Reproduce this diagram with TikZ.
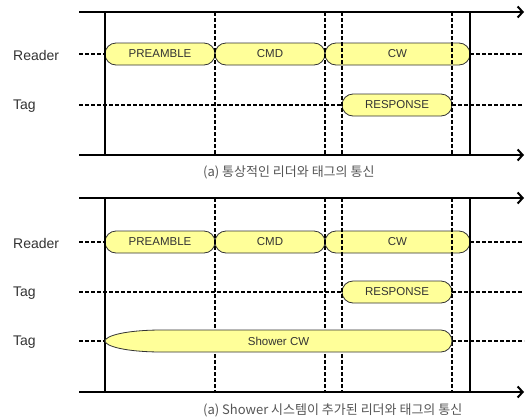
\documentclass[tikz,border=0pt]{standalone}
\usepackage{fontspec}
\setmainfont{Liberation Sans}
\newfontfamily\krfont{Noto Sans CJK KR}
\usetikzlibrary{arrows.meta,positioning,shapes.misc}
\definecolor{capfill}{HTML}{FFFF99}
\definecolor{inkgray}{HTML}{333333}
\definecolor{capgray}{HTML}{555555}

\begin{document}
\begin{tikzpicture}[x=1pt, y=-1pt,
    axis/.style={line width=2.4pt, -{Straight Barb[length=5pt, width=11pt, line width=2pt]}},
    bound/.style={line width=1.1pt},
    tick/.style={line width=1.2pt, dash pattern=on 4pt off 2pt},
    dashline/.style={line width=1.2pt, dash pattern=on 4pt off 2pt},
    capsule/.style={rounded rectangle, draw=inkgray, fill=capfill, line width=0.8pt,
        minimum height=22pt, inner sep=0pt, font=\fontsize{11.5}{13}\selectfont, text=inkgray},
    rowlabel/.style={anchor=west, inner sep=0pt, font=\fontsize{14}{16}\selectfont, text=inkgray},
    caption/.style={anchor=west, inner sep=0pt, font=\krfont\fontsize{13}{15}\selectfont, text=capgray}
]
\useasboundingbox (0,0) rectangle (527,418);

% ---------------- (a) normal reader / tag ----------------
\coordinate (t1L) at (79,12);  \coordinate (t1R) at (524,12);
\coordinate (b1L) at (79,155); \coordinate (b1R) at (524,155);

\node[rowlabel] (rd1) at (13,55) {Reader};
\node[rowlabel] (tg1) at (13,106) {Tag};

\node[capsule, minimum width=110pt] (pre1) at (160,54) {PREAMBLE};
\node[capsule, minimum width=110pt] (cmd1) at (270,54) {CMD};
\node[capsule, minimum width=145pt] (cw1) at (397.5,54) {CW};
\node[capsule, minimum width=110pt] (rsp1) at (397,105) {RESPONSE};

\coordinate (rd1L) at (79,54);  \coordinate (rd1R) at (524,54);
\coordinate (tg1L) at (79,105); \coordinate (tg1R) at (524,105);
\draw[dashline] (rd1L) -- (pre1.west);
\draw[dashline] (cw1.east) -- (rd1R);
\draw[dashline] (tg1L) -- (rsp1.west);
\draw[dashline] (rsp1.east) -- (tg1R);

\foreach \x in {105,470} \draw[bound] (\x,12) -- (\x,155);
\foreach \x in {215,325,342,452} \draw[tick] (\x,12) -- (\x,155);

\draw[axis] (t1L) -- (t1R);
\draw[axis] (b1L) -- (b1R);

\node[caption] (cap1) at (203,172) {(a) 통상적인 리더와 태그의 통신};

% ---------------- (b) with Shower system ----------------
\coordinate (t2L) at (79,198); \coordinate (t2R) at (524,198);
\coordinate (b2L) at (79,392); \coordinate (b2R) at (524,392);

\node[rowlabel] (rd2) at (13,243) {Reader};
\node[rowlabel] (tg2) at (13,293) {Tag};
\node[rowlabel] (tg3) at (13,342) {Tag};

\node[capsule, minimum width=110pt] (pre2) at (160,242) {PREAMBLE};
\node[capsule, minimum width=110pt] (cmd2) at (270,242) {CMD};
\node[capsule, minimum width=145pt] (cw2) at (397.5,242) {CW};
\node[capsule, minimum width=110pt] (rsp2) at (397,292) {RESPONSE};

\coordinate (rd2L) at (79,242); \coordinate (rd2R) at (524,242);
\coordinate (tg2L) at (79,292); \coordinate (tg2R) at (524,292);
\coordinate (tg3L) at (79,341); \coordinate (tg3R) at (524,341);
\draw[dashline] (rd2L) -- (pre2.west);
\draw[dashline] (cw2.east) -- (rd2R);
\draw[dashline] (tg2L) -- (rsp2.west);
\draw[dashline] (rsp2.east) -- (tg2R);
\draw[dashline] (tg3L) -- (105,341);
\draw[dashline] (452,341) -- (tg3R);

\foreach \x in {105,470} \draw[bound] (\x,198) -- (\x,392);
\foreach \x in {215,325,342,452} \draw[tick] (\x,198) -- (\x,392);

% shower carrier wave, tapered at its start
\draw[draw=inkgray, fill=capfill, line width=0.8pt]
    (441,330) -- (162,330) .. controls (125,330) and (105,336) .. (105,341)
    .. controls (105,346) and (125,352) .. (162,352) -- (441,352)
    .. controls (447,352) and (452,347) .. (452,341)
    .. controls (452,335) and (447,330) .. (441,330) -- cycle;
\node[font=\fontsize{11.5}{13}\selectfont, text=inkgray, inner sep=0pt] (shw) at (278.5,341) {Shower CW};

\draw[axis] (t2L) -- (t2R);
\draw[axis] (b2L) -- (b2R);

\node[caption] (cap2) at (203,410) {(a) Shower 시스템이 추가된 리더와 태그의 통신};
\end{tikzpicture}
\end{document}
